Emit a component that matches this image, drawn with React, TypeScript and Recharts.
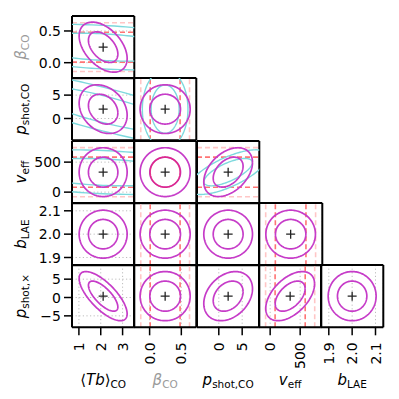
import React from 'react';
import { ComposedChart, XAxis, YAxis, Scatter, ReferenceLine, CartesianGrid, Label } from 'recharts';

// Parameters: ⟨Tb⟩_CO, β_CO, p_shot,CO, v_eff, b_LAE, p_shot,×
const PARAM_NAMES = ['Tb_CO', 'beta_CO', 'pshot_CO', 'v_eff', 'b_LAE', 'pshot_x'];
const FIDUCIAL = [2.11, 0.245, 2.0, 333, 2.0, 0.37];
const AXIS_HALF_RANGE = [1.426, 0.491, 6.66, 519, 0.1334, 8.49];
const TICK_VALUES = [[1, 2, 3], [0, 0.5], [0, 5], [0, 500], [1.9, 2.0, 2.1], [-5, 0, 5]];
const TICK_LABELS = [['1', '2', '3'], ['0.0', '0.5'], ['0', '5'], ['0', '500'], ['1.9', '2.0', '2.1'], ['−5', '0', '5']];

// Joint (magenta) forecast: 1-sigma marginal errors and correlations
const SIGMA_JOINT = [0.443, 0.159, 2.1, 164, 0.0414, 2.7];
const RHO_JOINT: [number, number, number][] = [
  [0, 1, -0.45], [0, 2, -0.25], [0, 3, 0], [0, 4, 0], [0, 5, -0.72],
  [1, 2, 0], [1, 3, 0], [1, 4, 0], [1, 5, 0],
  [2, 3, 0.4], [2, 4, 0], [2, 5, 0.3],
  [3, 4, 0], [3, 5, 0.5],
  [4, 5, 0],
];
// CO-only (cyan) forecast
const SIGMA_CO = [2.41, 0.145, 3.4, 150];
const RHO_CO: [number, number, number][] = [
  [0, 1, -0.3], [0, 2, -0.83], [0, 3, -0.25], [1, 2, 0], [2, 3, 0.7],
];
// Priors (red)
const SIGMA_PRIOR = [0, 0.155, 0, 165, 0, 0];
const CONTOUR_SCALES = [1.52, 2.48];

const PX0 = 72;
const PY0 = 16;
const PANEL = 62.3;
const FONT = '"DejaVu Sans", sans-serif';
const MAGENTA = '#c63cc8';
const CYAN = '#7dd9dd';
const RED_DARK = '#ff7474';
const RED_LIGHT = '#ffc6c6';

const PARAM_LABELS = [
  { pre: '⟨', sym: 'Tb', post: '⟩', sub: 'CO', color: '#000' },
  { pre: '', sym: 'β', post: '', sub: 'CO', color: '#9a9a9a' },
  { pre: '', sym: 'p', post: '', sub: 'shot,CO', color: '#000' },
  { pre: '', sym: 'v', post: '', sub: 'eff', color: '#000' },
  { pre: '', sym: 'b', post: '', sub: 'LAE', color: '#000' },
  { pre: '', sym: 'p', post: '', sub: 'shot,×', color: '#000' },
];

function findRho(list: [number, number, number][], i: number, j: number): number | null {
  const e = list.find(([a, b]) => (a === i && b === j) || (a === j && b === i));
  return e ? e[2] : null;
}

function ellipse(ix: number, iy: number, sx: number, sy: number, rho: number, k: number) {
  const pts: { x: number; y: number }[] = [];
  const s = Math.sqrt(1 - rho * rho);
  const n = 144;
  for (let i = 0; i <= n; i++) {
    const t = (2 * Math.PI * i) / n;
    pts.push({
      x: FIDUCIAL[ix] + k * sx * Math.cos(t),
      y: FIDUCIAL[iy] + k * sy * (rho * Math.cos(t) + s * Math.sin(t)),
    });
  }
  return pts;
}

const EmptyShape = () => <g />;
const PlusShape = (props: any) => {
  const { cx, cy } = props;
  return (
    <g stroke="#222" strokeWidth={1.3}>
      <line x1={cx - 4.5} y1={cy} x2={cx + 4.5} y2={cy} />
      <line x1={cx} y1={cy - 4.5} x2={cx} y2={cy + 4.5} />
    </g>
  );
};

function MathText({ p, x, y, rotate }: { p: number; x: number; y: number; rotate?: boolean }) {
  const L = PARAM_LABELS[p];
  return (
    <text
      x={x}
      y={y}
      textAnchor="middle"
      fontFamily={FONT}
      fontSize={15}
      fill={L.color}
      transform={rotate ? `rotate(-90 ${x} ${y})` : undefined}
    >
      {L.pre ? <tspan>{L.pre}</tspan> : null}
      <tspan fontStyle="italic">{L.sym}</tspan>
      {L.post ? <tspan>{L.post}</tspan> : null}
      <tspan fontSize={10.5} dy={3.5}>{L.sub}</tspan>
    </text>
  );
}

const makeYTick = (p: number) => (props: any) => {
  const { x, y, payload } = props;
  const idx = TICK_VALUES[p].indexOf(payload.value);
  return (
    <text x={x} y={y} dy="0.36em" textAnchor="end" fontFamily={FONT} fontSize={14} fill="#000">
      {TICK_LABELS[p][idx]}
    </text>
  );
};

const makeXTick = (p: number) => (props: any) => {
  const { x, y, payload } = props;
  const idx = TICK_VALUES[p].indexOf(payload.value);
  return (
    <text
      x={x}
      y={y}
      dy="0.36em"
      textAnchor="end"
      fontFamily={FONT}
      fontSize={14}
      fill="#000"
      transform={`rotate(-90 ${x} ${y})`}
    >
      {TICK_LABELS[p][idx]}
    </text>
  );
};

function Panel({ r, c }: { r: number; c: number }) {
  const ix = c;
  const iy = r + 1;
  const isLeft = c === 0;
  const isBottom = r === 4;
  const mL = isLeft ? 72 : 12;
  const mR = 12;
  const mT = r === 0 ? 16 : 6;
  const mB = isBottom ? 72 : 12;
  const W = mL + PANEL + mR;
  const H = mT + PANEL + mB;
  const xDom: [number, number] = [FIDUCIAL[ix] - AXIS_HALF_RANGE[ix], FIDUCIAL[ix] + AXIS_HALF_RANGE[ix]];
  const yDom: [number, number] = [FIDUCIAL[iy] - AXIS_HALF_RANGE[iy], FIDUCIAL[iy] + AXIS_HALF_RANGE[iy]];
  const spine = { stroke: '#000', strokeWidth: 2 };
  const tickLine = { stroke: '#000', strokeWidth: 1.5 };
  const rightTicks = r === 3 && c === 3;

  const rhoJ = findRho(RHO_JOINT, ix, iy) ?? 0;
  const rhoC = ix < 4 && iy < 4 ? findRho(RHO_CO, ix, iy) : null;
  const px = SIGMA_PRIOR[ix];
  const py = SIGMA_PRIOR[iy];

  const priorLines: React.ReactNode[] = [];
  CONTOUR_SCALES.forEach((k, li) => {
    const color = li === 0 ? RED_DARK : RED_LIGHT;
    [-1, 1].forEach((sgn) => {
      if (px && !py) {
        priorLines.push(
          <ReferenceLine key={`px${li}${sgn}`} x={FIDUCIAL[ix] + sgn * k * px} stroke={color} strokeWidth={1.6} strokeDasharray="5 3" />
        );
      }
      if (py && !px) {
        priorLines.push(
          <ReferenceLine key={`py${li}${sgn}`} y={FIDUCIAL[iy] + sgn * k * py} stroke={color} strokeWidth={1.6} strokeDasharray="5 3" />
        );
      }
    });
  });

  return (
    <div style={{ position: 'absolute', left: PX0 + c * PANEL - mL, top: PY0 + r * PANEL - mT }}>
      <ComposedChart width={W} height={H} margin={{ top: mT - 1, right: mR - 1, bottom: mB - 1, left: mL - 1 }}>
        <CartesianGrid stroke="#bdbdbd" strokeDasharray="1.2 2.4" strokeWidth={1} />
        <XAxis
          type="number"
          dataKey="x"
          domain={xDom}
          allowDataOverflow
          ticks={TICK_VALUES[ix]}
          interval={0}
          height={1}
          tickSize={8}
          tickMargin={7}
          axisLine={spine}
          tickLine={isBottom ? tickLine : false}
          tick={isBottom ? makeXTick(ix) : false}
        >
          {isBottom ? (
            <Label content={() => <MathText p={ix} x={mL + PANEL / 2} y={mT + PANEL + 57.5} />} />
          ) : null}
        </XAxis>
        <YAxis
          type="number"
          dataKey="y"
          domain={yDom}
          allowDataOverflow
          ticks={TICK_VALUES[iy]}
          interval={0}
          width={1}
          tickSize={8}
          tickMargin={3}
          axisLine={spine}
          tickLine={tickLine}
          tick={isLeft ? makeYTick(iy) : false}
        >
          {isLeft ? <Label content={() => <MathText p={iy} x={26} y={mT + PANEL / 2} rotate />} /> : null}
        </YAxis>
        <XAxis
          xAxisId="top"
          orientation="top"
          type="number"
          domain={xDom}
          allowDataOverflow
          height={1}
          axisLine={spine}
          tickLine={false}
          tick={false}
        />
        <YAxis
          yAxisId="right"
          orientation="right"
          type="number"
          domain={yDom}
          allowDataOverflow
          ticks={TICK_VALUES[iy]}
          interval={0}
          width={1}
          mirror={rightTicks}
          tickSize={8}
          axisLine={spine}
          tickLine={rightTicks ? tickLine : false}
          tick={false}
        />
        {priorLines}
        {rhoC !== null
          ? CONTOUR_SCALES.map((k, li) => (
              <Scatter
                key={`c${li}`}
                data={ellipse(ix, iy, SIGMA_CO[ix], SIGMA_CO[iy], rhoC, k)}
                line={{ stroke: CYAN, strokeWidth: 1.4 }}
                shape={EmptyShape}
                isAnimationActive={false}
              />
            ))
          : null}
        {CONTOUR_SCALES.map((k, li) => (
          <Scatter
            key={`m${li}`}
            data={ellipse(ix, iy, SIGMA_JOINT[ix], SIGMA_JOINT[iy], rhoJ, k)}
            line={{ stroke: MAGENTA, strokeWidth: 1.7 }}
            shape={EmptyShape}
            isAnimationActive={false}
          />
        ))}
        {px && py ? (
          <Scatter
            data={ellipse(ix, iy, px, py, 0, CONTOUR_SCALES[0])}
            line={{ stroke: '#e8206e', strokeWidth: 1.5, strokeOpacity: 0.7 }}
            shape={EmptyShape}
            isAnimationActive={false}
          />
        ) : null}
        <Scatter data={[{ x: FIDUCIAL[ix], y: FIDUCIAL[iy] }]} shape={PlusShape} isAnimationActive={false} />
      </ComposedChart>
    </div>
  );
}

export default function App() {
  const panels: { r: number; c: number }[] = [];
  for (let r = 0; r < 5; r++) {
    for (let c = 0; c <= r; c++) panels.push({ r, c });
  }
  return (
    <div style={{ position: 'absolute', left: 0, top: 0, width: 399, height: 399, background: '#fff', overflow: 'hidden' }}>
      {panels.map(({ r, c }) => (
        <Panel key={`${PARAM_NAMES[r + 1]}-${PARAM_NAMES[c]}`} r={r} c={c} />
      ))}
    </div>
  );
}
